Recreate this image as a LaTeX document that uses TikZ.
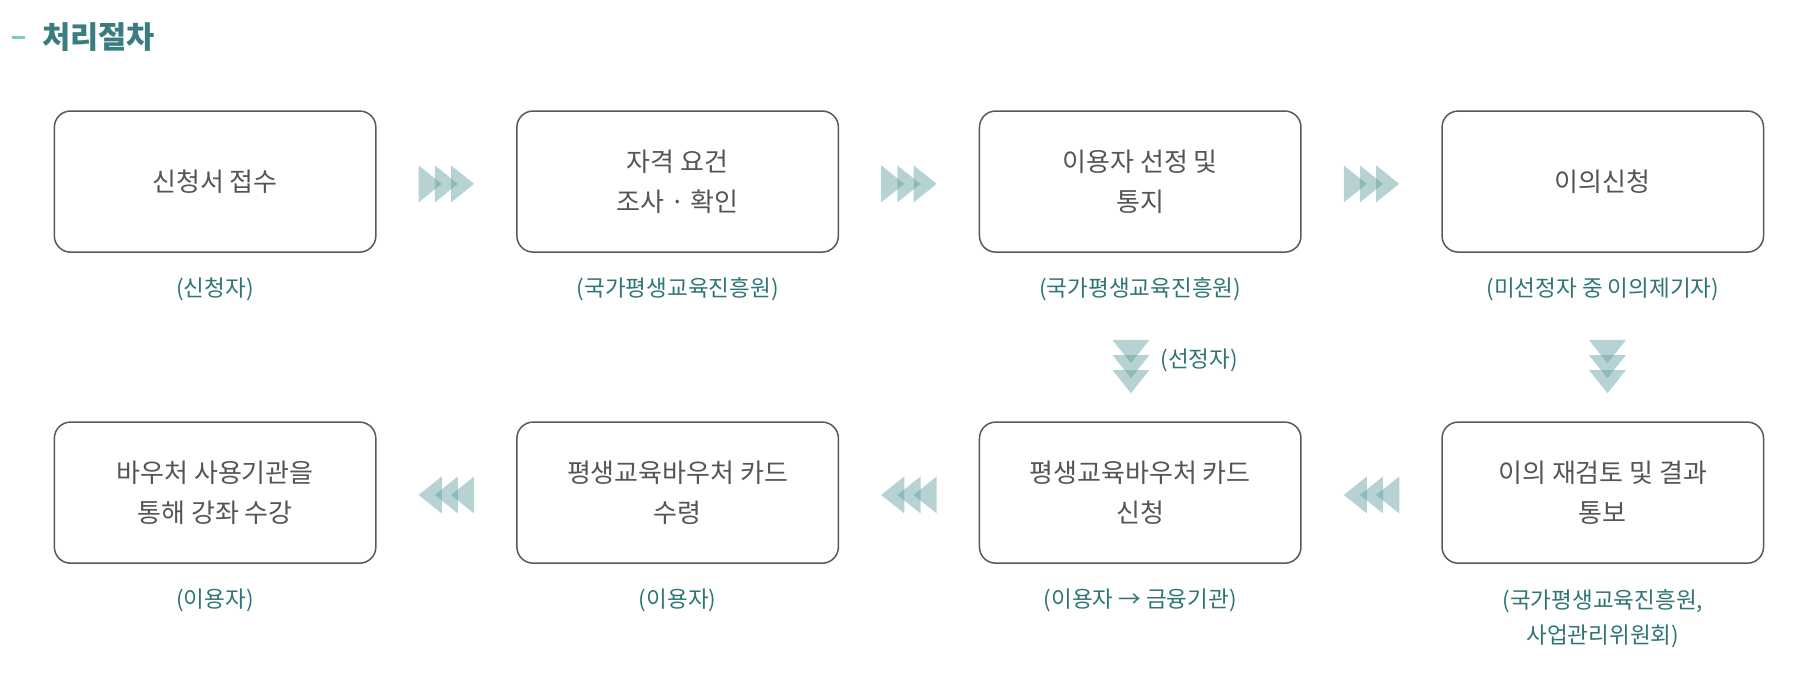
\documentclass[tikz,border=0pt]{standalone}
\usepackage{fontspec}
\setmainfont{Noto Sans CJK KR}
\definecolor{boxtext}{HTML}{555555}
\definecolor{lab}{HTML}{2F7575}
\definecolor{ttl}{HTML}{3A7C80}
\definecolor{tri}{HTML}{5E9C9C}
\begin{document}
\begin{tikzpicture}[x=1pt,y=-1pt,
  box/.style={draw=black!65,line width=1.3pt,rounded corners=14pt,minimum width=278pt,minimum height=122pt,align=center,text=boxtext,font=\fontsize{22.5}{35}\selectfont},
  lbl/.style={text=lab,align=center,font=\fontsize{19.5}{31}\selectfont}]
\useasboundingbox (0,0) rectangle (1560,598);
\fill[ttl!70!cyan!60] (10,31) rectangle (22,34);
\node[anchor=west,text=ttl,font=\fontsize{26.5}{30}\selectfont\bfseries] (title) at (33,32) {처리절차};
\node[box] (b1) at (186,157) {신청서 접수};
\node[box] (b2) at (586,157) {자격 요건\\조사 · 확인};
\node[box] (b3) at (986,157) {이용자 선정 및\\통지};
\node[box] (b4) at (1386,157) {이의신청};
\node[box] (b5) at (186,426) {바우처 사용기관을\\통해 강좌 수강};
\node[box] (b6) at (586,426) {평생교육바우처 카드\\수령};
\node[box] (b7) at (986,426) {평생교육바우처 카드\\신청};
\node[box] (b8) at (1386,426) {이의 재검토 및 결과\\통보};
\node[lbl] (l1) at (186,250) {(신청자)};
\node[lbl] (l2) at (586,250) {(국가평생교육진흥원)};
\node[lbl] (l3) at (986,250) {(국가평생교육진흥원)};
\node[lbl] (l4) at (1386,250) {(미선정자 중 이의제기자)};
\node[lbl] (l5) at (186,519) {(이용자)};
\node[lbl] (l6) at (586,519) {(이용자)};
\node[lbl] (l7) at (986,519) {(이용자 → 금융기관)};
\node[lbl] (l8) at (1386,535) {(국가평생교육진흥원,\\사업관리위원회)};
\node[lbl,anchor=west] (sel) at (1000,312) {(선정자)};
% right arrows
\foreach \cx in {386,786,1186}{
  \foreach \k in {0,1,2}{
    \fill[tri,opacity=0.45] ({\cx-24+\k*14},143) -- ({\cx-4+\k*14},159) -- ({\cx-24+\k*14},175) -- cycle;}}
% left arrows
\foreach \cx in {386,786,1186}{
  \foreach \k in {0,1,2}{
    \fill[tri,opacity=0.45] ({\cx+24-\k*14},412) -- ({\cx+4-\k*14},428) -- ({\cx+24-\k*14},444) -- cycle;}}
% down arrows
\foreach \cx in {978,1390}{
  \foreach \k in {0,1,2}{
    \fill[tri,opacity=0.45] ({\cx-16},{294+\k*13}) -- ({\cx+16},{294+\k*13}) -- (\cx,{314+\k*13}) -- cycle;}}
\end{tikzpicture}
\end{document}
